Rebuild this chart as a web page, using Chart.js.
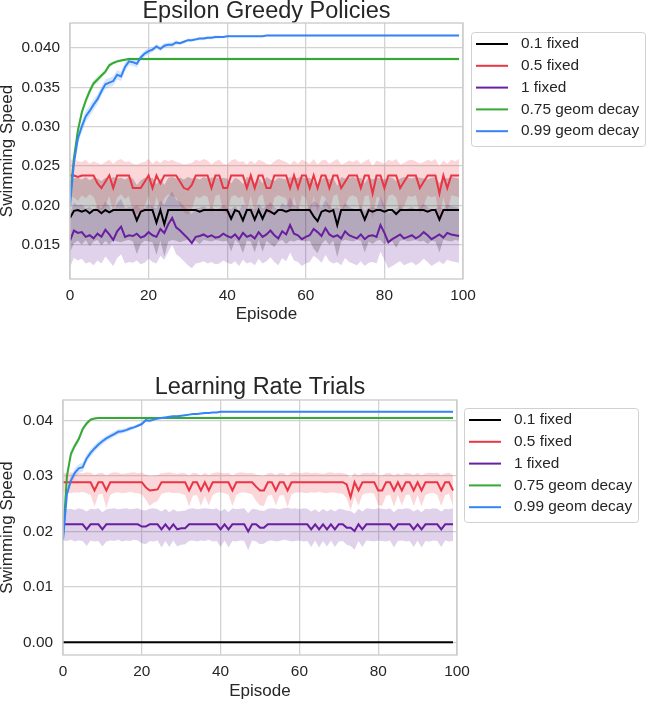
<!DOCTYPE html>
<html><head><meta charset="utf-8">
<script src="https://cdn.jsdelivr.net/npm/chart.js@4.4.0/dist/chart.umd.min.js"></script>
<style>
html,body{margin:0;padding:0;background:#fff;}
#wrap{position:relative;width:646px;height:701px;overflow:hidden;}
canvas{position:absolute;left:0;}
</style></head><body>
<div id="wrap">
<canvas id="c1" width="646" height="330" style="top:0"></canvas>
<canvas id="c2" width="646" height="371" style="top:330px"></canvas>
</div>
<script>
// ---------- shared ----------
const episodes = Array.from({length: 100}, (_, i) => i);
const seriesNames = ['0.1 fixed', '0.5 fixed', '1 fixed', '0.75 geom decay', '0.99 geom decay'];
const xTicks = [0, 20, 40, 60, 80, 100];
const xTickLabels = ['0', '20', '40', '60', '80', '100'];

// ---------- Chart 1: Epsilon Greedy Policies ----------
const epsTitle = 'Epsilon Greedy Policies';
const epsYTicks = [0.015, 0.020, 0.025, 0.030, 0.035, 0.040];
const epsYTickLabels = ['0.015', '0.020', '0.025', '0.030', '0.035', '0.040'];

const epsBlack = [
.0184,.0193,.0194,.0192,.0194,.0190,.0194,.0194,.0190,.0194,
.0191,.0194,.0194,.0194,.0194,.0194,.0194,.0181,.0192,.0194,
.0194,.0194,.0178,.0194,.0176,.0194,.0194,.0194,.0194,.0194,
.0194,.0194,.0194,.0192,.0194,.0194,.0194,.0194,.0194,.0194,
.0194,.0183,.0194,.0192,.0181,.0194,.0194,.0182,.0194,.0183,
.0194,.0192,.0189,.0194,.0194,.0192,.0194,.0194,.0194,.0194,
.0194,.0194,.0186,.0180,.0192,.0194,.0192,.0194,.0175,.0194,
.0194,.0194,.0194,.0194,.0194,.0182,.0194,.0192,.0194,.0194,
.0192,.0194,.0194,.0189,.0194,.0194,.0194,.0194,.0194,.0194,
.0194,.0192,.0194,.0194,.0182,.0194,.0194,.0194,.0194,.0194];
const epsBlackHi = [
.0232,.0234,.0235,.0233,.0236,.0232,.0235,.0234,.0231,.0235,.0233,.0236,.0234,.0235,.0233,.0236,.0234,.0226,.0232,.0235,
.0234,.0235,.0227,.0234,.0226,.0235,.0236,.0234,.0235,.0233,.0236,.0234,.0235,.0233,.0236,.0234,.0235,.0236,.0234,.0235,
.0234,.0228,.0235,.0233,.0227,.0236,.0234,.0228,.0235,.0228,.0236,.0233,.0231,.0235,.0234,.0233,.0236,.0234,.0235,.0236,
.0234,.0235,.0230,.0226,.0233,.0236,.0233,.0235,.0225,.0236,.0234,.0235,.0236,.0234,.0235,.0228,.0236,.0233,.0235,.0234,
.0233,.0236,.0235,.0231,.0234,.0236,.0235,.0234,.0236,.0235,.0234,.0233,.0235,.0236,.0228,.0235,.0234,.0236,.0235,.0234];
const epsBlackLo = [
.0140,.0152,.0155,.0150,.0156,.0148,.0154,.0156,.0149,.0155,.0150,.0156,.0154,.0153,.0155,.0156,.0154,.0138,.0151,.0155,
.0154,.0153,.0137,.0155,.0135,.0154,.0156,.0155,.0153,.0155,.0156,.0154,.0155,.0151,.0156,.0155,.0154,.0156,.0155,.0154,
.0155,.0141,.0156,.0152,.0139,.0155,.0154,.0140,.0156,.0141,.0155,.0151,.0147,.0154,.0156,.0151,.0155,.0154,.0156,.0155,
.0154,.0155,.0145,.0139,.0151,.0156,.0150,.0155,.0134,.0154,.0156,.0155,.0154,.0156,.0155,.0140,.0154,.0151,.0155,.0156,
.0150,.0155,.0154,.0146,.0155,.0156,.0154,.0155,.0156,.0154,.0155,.0151,.0155,.0154,.0140,.0156,.0155,.0154,.0156,.0155];

const epsRed = [
.0238,.0238,.0236,.0238,.0238,.0238,.0238,.0228,.0222,.0230,
.0238,.0222,.0238,.0238,.0238,.0238,.0222,.0222,.0222,.0230,
.0238,.0222,.0238,.0228,.0238,.0238,.0238,.0238,.0230,.0222,
.0220,.0226,.0238,.0238,.0238,.0238,.0222,.0238,.0238,.0222,
.0222,.0238,.0238,.0238,.0238,.0222,.0238,.0222,.0238,.0238,
.0222,.0222,.0238,.0238,.0238,.0238,.0222,.0238,.0222,.0238,
.0238,.0222,.0238,.0222,.0238,.0238,.0222,.0238,.0238,.0222,
.0230,.0238,.0238,.0238,.0222,.0238,.0238,.0215,.0238,.0238,
.0222,.0238,.0238,.0238,.0222,.0230,.0238,.0238,.0238,.0222,
.0230,.0238,.0238,.0238,.0215,.0238,.0222,.0238,.0238,.0238];
const epsRedHi = [
.0258,.0259,.0256,.0255,.0258,.0253,.0256,.0254,.0252,.0255,.0258,.0253,.0257,.0259,.0255,.0256,.0253,.0252,.0254,.0255,
.0259,.0253,.0257,.0254,.0258,.0256,.0258,.0255,.0254,.0252,.0253,.0254,.0258,.0256,.0259,.0257,.0252,.0256,.0258,.0253,
.0252,.0257,.0259,.0255,.0256,.0252,.0257,.0253,.0258,.0256,.0253,.0252,.0256,.0259,.0257,.0255,.0252,.0257,.0253,.0258,
.0256,.0253,.0259,.0252,.0257,.0258,.0253,.0256,.0259,.0252,.0254,.0257,.0255,.0258,.0253,.0256,.0259,.0250,.0257,.0255,
.0253,.0258,.0256,.0259,.0252,.0254,.0257,.0258,.0256,.0253,.0255,.0258,.0256,.0259,.0250,.0257,.0253,.0258,.0256,.0259];
const epsRedLo = [
.0212,.0210,.0206,.0213,.0209,.0214,.0211,.0198,.0190,.0200,.0212,.0191,.0210,.0214,.0208,.0212,.0192,.0189,.0191,.0199,
.0213,.0190,.0211,.0197,.0209,.0214,.0212,.0210,.0200,.0191,.0188,.0195,.0212,.0209,.0213,.0211,.0190,.0212,.0214,.0192,
.0189,.0211,.0213,.0209,.0212,.0191,.0213,.0190,.0211,.0214,.0192,.0188,.0210,.0213,.0211,.0209,.0190,.0212,.0191,.0213,
.0210,.0189,.0212,.0191,.0213,.0210,.0190,.0212,.0214,.0191,.0199,.0211,.0213,.0210,.0190,.0212,.0213,.0182,.0211,.0209,
.0191,.0212,.0214,.0210,.0190,.0199,.0212,.0211,.0213,.0189,.0200,.0213,.0210,.0212,.0183,.0211,.0190,.0213,.0212,.0210];

const epsPurple = [
.0155,.0168,.0165,.0166,.0160,.0162,.0158,.0164,.0160,.0169,
.0163,.0156,.0167,.0173,.0160,.0162,.0161,.0164,.0159,.0161,
.0166,.0162,.0160,.0170,.0165,.0176,.0184,.0172,.0168,.0163,
.0158,.0152,.0160,.0161,.0163,.0160,.0162,.0159,.0160,.0164,
.0161,.0159,.0163,.0157,.0165,.0160,.0162,.0158,.0166,.0160,
.0163,.0168,.0162,.0158,.0167,.0163,.0175,.0164,.0162,.0157,
.0160,.0162,.0170,.0166,.0161,.0171,.0163,.0160,.0162,.0158,
.0167,.0162,.0160,.0158,.0163,.0157,.0161,.0162,.0160,.0175,
.0165,.0153,.0157,.0160,.0163,.0158,.0160,.0162,.0158,.0161,
.0166,.0162,.0157,.0160,.0163,.0159,.0165,.0163,.0162,.0161];
const epsPurpleHi = [
.0190,.0203,.0200,.0201,.0196,.0198,.0194,.0200,.0196,.0205,.0199,.0192,.0203,.0208,.0196,.0198,.0197,.0200,.0195,.0197,
.0202,.0198,.0196,.0206,.0201,.0211,.0218,.0207,.0204,.0199,.0194,.0189,.0196,.0197,.0199,.0196,.0198,.0195,.0196,.0200,
.0197,.0195,.0199,.0193,.0201,.0196,.0198,.0194,.0202,.0196,.0199,.0204,.0198,.0194,.0203,.0199,.0210,.0200,.0198,.0193,
.0196,.0198,.0206,.0202,.0197,.0207,.0199,.0196,.0198,.0194,.0203,.0198,.0196,.0194,.0199,.0193,.0197,.0198,.0196,.0211,
.0201,.0190,.0193,.0196,.0199,.0194,.0196,.0198,.0194,.0197,.0202,.0198,.0193,.0196,.0199,.0195,.0201,.0199,.0198,.0197];
const epsPurpleLo = [
.0122,.0133,.0130,.0132,.0126,.0128,.0124,.0130,.0126,.0135,.0129,.0123,.0133,.0138,.0126,.0128,.0127,.0130,.0125,.0127,
.0132,.0128,.0126,.0136,.0131,.0141,.0150,.0138,.0134,.0129,.0124,.0120,.0126,.0127,.0129,.0126,.0128,.0125,.0126,.0130,
.0127,.0125,.0129,.0123,.0131,.0126,.0128,.0124,.0132,.0126,.0129,.0134,.0128,.0124,.0133,.0129,.0140,.0130,.0128,.0123,
.0126,.0128,.0136,.0132,.0127,.0137,.0129,.0126,.0128,.0124,.0133,.0128,.0126,.0124,.0129,.0123,.0127,.0128,.0126,.0141,
.0131,.0120,.0123,.0126,.0129,.0124,.0126,.0128,.0124,.0127,.0132,.0128,.0123,.0126,.0129,.0125,.0131,.0129,.0128,.0127];

const epsGreen = [
.0210,.0260,.0295,.0318,.0333,.0345,.0355,.0360,.0365,.0370,
.0378,.0381,.0383,.0384,.0385,.0386,.0386,.0386,.0386,.0386,
.0386,.0386,.0386,.0386,.0386,.0386,.0386,.0386,.0386,.0386,
.0386,.0386,.0386,.0386,.0386,.0386,.0386,.0386,.0386,.0386,
.0386,.0386,.0386,.0386,.0386,.0386,.0386,.0386,.0386,.0386,
.0386,.0386,.0386,.0386,.0386,.0386,.0386,.0386,.0386,.0386,
.0386,.0386,.0386,.0386,.0386,.0386,.0386,.0386,.0386,.0386,
.0386,.0386,.0386,.0386,.0386,.0386,.0386,.0386,.0386,.0386,
.0386,.0386,.0386,.0386,.0386,.0386,.0386,.0386,.0386,.0386,
.0386,.0386,.0386,.0386,.0386,.0386,.0386,.0386,.0386,.0386];
const epsGreenLo = [
.0203,.0254,.0289,.0313,.0328,.0340,.0351,.0356,.0362,.0367,
.0375,.0379,.0381,.0382,.0384,.0384,.0384,.0384,.0384,.0384,
.0384,.0384,.0384,.0384,.0384,.0384,.0384,.0384,.0384,.0384,
.0384,.0384,.0384,.0384,.0384,.0384,.0384,.0384,.0384,.0384,
.0384,.0384,.0384,.0384,.0384,.0384,.0384,.0384,.0384,.0384,
.0384,.0384,.0384,.0384,.0384,.0384,.0384,.0384,.0384,.0384,
.0384,.0384,.0384,.0384,.0384,.0384,.0384,.0384,.0384,.0384,
.0384,.0384,.0384,.0384,.0384,.0384,.0384,.0384,.0384,.0384,
.0384,.0384,.0384,.0384,.0384,.0384,.0384,.0384,.0384,.0384,
.0384,.0384,.0384,.0384,.0384,.0384,.0384,.0384,.0384,.0384];
const epsGreenHi = [
.0217,.0266,.0301,.0323,.0338,.0350,.0359,.0364,.0368,.0373,
.0381,.0383,.0385,.0386,.0387,.0388,.0388,.0388,.0388,.0388,
.0388,.0388,.0388,.0388,.0388,.0388,.0388,.0388,.0388,.0388,
.0388,.0388,.0388,.0388,.0388,.0388,.0388,.0388,.0388,.0388,
.0388,.0388,.0388,.0388,.0388,.0388,.0388,.0388,.0388,.0388,
.0388,.0388,.0388,.0388,.0388,.0388,.0388,.0388,.0388,.0388,
.0388,.0388,.0388,.0388,.0388,.0388,.0388,.0388,.0388,.0388,
.0388,.0388,.0388,.0388,.0388,.0388,.0388,.0388,.0388,.0388,
.0388,.0388,.0388,.0388,.0388,.0388,.0388,.0388,.0388,.0388,
.0388,.0388,.0388,.0388,.0388,.0388,.0388,.0388,.0388,.0388];

const epsBlue = [
.0200,.0254,.0285,.0300,.0313,.0320,.0328,.0335,.0345,.0354,
.0356,.0358,.0366,.0364,.0376,.0383,.0382,.0380,.0388,.0393,
.0396,.0398,.0402,.0399,.0403,.0404,.0404,.0407,.0406,.0408,
.0410,.0410,.0411,.0412,.0412,.0413,.0413,.0414,.0414,.0414,
.0415,.0415,.0415,.0415,.0415,.0415,.0415,.0415,.0415,.0415,
.0416,.0416,.0416,.0416,.0416,.0416,.0416,.0416,.0416,.0416,
.0416,.0416,.0416,.0416,.0416,.0416,.0416,.0416,.0416,.0416,
.0416,.0416,.0416,.0416,.0416,.0416,.0416,.0416,.0416,.0416,
.0416,.0416,.0416,.0416,.0416,.0416,.0416,.0416,.0416,.0416,
.0416,.0416,.0416,.0416,.0416,.0416,.0416,.0416,.0416,.0416];
const epsBlueLo = [
.0193,.0247,.0278,.0293,.0306,.0313,.0321,.0329,.0339,.0348,
.0350,.0352,.0360,.0358,.0370,.0378,.0377,.0375,.0384,.0389,
.0392,.0395,.0399,.0396,.0400,.0401,.0401,.0404,.0404,.0406,
.0408,.0408,.0409,.0410,.0410,.0411,.0411,.0412,.0412,.0413,
.0414,.0414,.0414,.0414,.0414,.0414,.0414,.0414,.0414,.0414,
.0415,.0415,.0415,.0415,.0415,.0415,.0415,.0415,.0415,.0415,
.0415,.0415,.0415,.0415,.0415,.0415,.0415,.0415,.0415,.0415,
.0415,.0415,.0415,.0415,.0415,.0415,.0415,.0415,.0415,.0415,
.0415,.0415,.0415,.0415,.0415,.0415,.0415,.0415,.0415,.0415,
.0415,.0415,.0415,.0415,.0415,.0415,.0415,.0415,.0415,.0415];
const epsBlueHi = [
.0207,.0261,.0292,.0307,.0320,.0327,.0335,.0341,.0351,.0360,
.0362,.0364,.0372,.0370,.0382,.0388,.0387,.0385,.0392,.0397,
.0400,.0401,.0405,.0402,.0406,.0407,.0407,.0410,.0408,.0410,
.0412,.0412,.0413,.0414,.0414,.0415,.0415,.0416,.0416,.0415,
.0416,.0416,.0416,.0416,.0416,.0416,.0416,.0416,.0416,.0416,
.0417,.0417,.0417,.0417,.0417,.0417,.0417,.0417,.0417,.0417,
.0417,.0417,.0417,.0417,.0417,.0417,.0417,.0417,.0417,.0417,
.0417,.0417,.0417,.0417,.0417,.0417,.0417,.0417,.0417,.0417,
.0417,.0417,.0417,.0417,.0417,.0417,.0417,.0417,.0417,.0417,
.0417,.0417,.0417,.0417,.0417,.0417,.0417,.0417,.0417,.0417];

// ---------- Chart 2: Learning Rate Trials ----------
const lrTitle = 'Learning Rate Trials';
const lrYTicks = [0.00, 0.01, 0.02, 0.03, 0.04];
const lrYTickLabels = ['0.00', '0.01', '0.02', '0.03', '0.04'];

const lrBlack = [
0,0,0,0,0,0,0,0,0,0, 0,0,0,0,0,0,0,0,0,0, 0,0,0,0,0,0,0,0,0,0, 0,0,0,0,0,0,0,0,0,0, 0,0,0,0,0,0,0,0,0,0,
0,0,0,0,0,0,0,0,0,0, 0,0,0,0,0,0,0,0,0,0, 0,0,0,0,0,0,0,0,0,0, 0,0,0,0,0,0,0,0,0,0, 0,0,0,0,0,0,0,0,0,0];

const lrRed = [
.0289,.0289,.0289,.0289,.0289,.0289,.0289,.0289,.0274,.0289,
.0289,.0274,.0289,.0289,.0289,.0289,.0289,.0289,.0289,.0289,
.0289,.0280,.0274,.0275,.0276,.0289,.0289,.0289,.0289,.0289,
.0289,.0289,.0274,.0289,.0289,.0274,.0289,.0274,.0289,.0289,
.0289,.0289,.0289,.0274,.0289,.0289,.0289,.0289,.0289,.0281,
.0274,.0274,.0289,.0289,.0274,.0289,.0289,.0274,.0289,.0289,
.0289,.0289,.0289,.0289,.0289,.0289,.0289,.0289,.0289,.0289,
.0289,.0289,.0285,.0262,.0289,.0274,.0289,.0289,.0289,.0289,
.0274,.0274,.0289,.0289,.0274,.0289,.0274,.0289,.0289,.0274,
.0289,.0274,.0289,.0289,.0289,.0289,.0274,.0289,.0289,.0274];
const lrRedHi = [
.0306,.0305,.0307,.0304,.0306,.0305,.0307,.0306,.0302,.0305,
.0306,.0301,.0305,.0307,.0306,.0304,.0305,.0306,.0307,.0305,
.0306,.0303,.0300,.0301,.0302,.0305,.0306,.0307,.0305,.0304,
.0306,.0305,.0301,.0306,.0305,.0301,.0306,.0302,.0305,.0307,
.0306,.0305,.0306,.0301,.0305,.0307,.0306,.0305,.0306,.0303,
.0301,.0300,.0305,.0306,.0302,.0306,.0305,.0301,.0306,.0307,
.0305,.0306,.0307,.0305,.0306,.0305,.0304,.0306,.0307,.0305,
.0306,.0305,.0304,.0297,.0306,.0301,.0305,.0306,.0305,.0307,
.0302,.0301,.0305,.0306,.0301,.0305,.0302,.0306,.0305,.0302,
.0306,.0301,.0305,.0306,.0305,.0306,.0302,.0305,.0306,.0302];
const lrRedLo = [
.0271,.0270,.0269,.0271,.0270,.0272,.0269,.0266,.0245,.0267,
.0268,.0242,.0266,.0270,.0271,.0269,.0270,.0272,.0270,.0269,
.0267,.0258,.0246,.0252,.0255,.0268,.0270,.0271,.0269,.0270,
.0268,.0266,.0245,.0265,.0266,.0246,.0264,.0247,.0266,.0270,
.0271,.0269,.0267,.0246,.0266,.0270,.0271,.0269,.0267,.0255,
.0247,.0246,.0265,.0266,.0247,.0265,.0266,.0244,.0267,.0270,
.0271,.0270,.0269,.0271,.0270,.0272,.0270,.0269,.0271,.0270,
.0269,.0268,.0260,.0238,.0264,.0246,.0266,.0269,.0270,.0268,
.0248,.0246,.0265,.0266,.0245,.0266,.0247,.0266,.0267,.0246,
.0266,.0245,.0266,.0269,.0270,.0266,.0246,.0266,.0268,.0245];

const lrPurple = [
.0213,.0213,.0213,.0213,.0213,.0213,.0204,.0213,.0213,.0213,
.0204,.0213,.0213,.0213,.0213,.0213,.0213,.0213,.0213,.0213,
.0209,.0209,.0213,.0213,.0213,.0204,.0213,.0204,.0213,.0204,
.0206,.0206,.0213,.0213,.0213,.0213,.0213,.0213,.0213,.0213,
.0204,.0213,.0204,.0213,.0213,.0213,.0213,.0200,.0213,.0213,
.0207,.0207,.0213,.0213,.0213,.0213,.0213,.0213,.0213,.0213,
.0213,.0213,.0213,.0204,.0213,.0204,.0213,.0204,.0213,.0204,
.0213,.0213,.0207,.0207,.0201,.0213,.0204,.0213,.0213,.0213,
.0213,.0213,.0213,.0213,.0204,.0213,.0213,.0213,.0213,.0204,
.0213,.0204,.0213,.0213,.0213,.0213,.0204,.0213,.0213,.0213];
const lrPurpleHi = [
.0238,.0240,.0241,.0239,.0242,.0240,.0236,.0241,.0240,.0242,
.0235,.0240,.0241,.0242,.0240,.0241,.0242,.0240,.0241,.0242,
.0239,.0238,.0241,.0242,.0240,.0236,.0241,.0235,.0240,.0236,
.0237,.0238,.0241,.0242,.0240,.0241,.0242,.0241,.0240,.0242,
.0236,.0241,.0235,.0242,.0240,.0241,.0242,.0233,.0241,.0240,
.0238,.0237,.0241,.0242,.0241,.0240,.0242,.0243,.0241,.0242,
.0240,.0242,.0241,.0236,.0240,.0235,.0241,.0236,.0240,.0236,
.0241,.0240,.0238,.0237,.0232,.0241,.0236,.0242,.0241,.0240,
.0242,.0241,.0240,.0242,.0235,.0241,.0240,.0242,.0241,.0236,
.0240,.0235,.0241,.0240,.0242,.0241,.0236,.0241,.0240,.0242];
const lrPurpleLo = [
.0184,.0183,.0185,.0182,.0184,.0183,.0174,.0184,.0182,.0183,
.0173,.0182,.0184,.0183,.0185,.0182,.0184,.0183,.0185,.0184,
.0179,.0177,.0183,.0182,.0184,.0171,.0183,.0172,.0184,.0173,
.0176,.0177,.0183,.0184,.0182,.0184,.0183,.0185,.0182,.0183,
.0172,.0184,.0171,.0183,.0182,.0184,.0183,.0166,.0184,.0182,
.0177,.0178,.0183,.0184,.0182,.0183,.0185,.0184,.0182,.0183,
.0184,.0182,.0183,.0172,.0184,.0171,.0183,.0173,.0184,.0172,
.0182,.0183,.0176,.0174,.0167,.0183,.0172,.0184,.0183,.0182,
.0184,.0183,.0182,.0184,.0171,.0183,.0184,.0182,.0183,.0172,
.0184,.0171,.0183,.0182,.0184,.0183,.0172,.0184,.0182,.0183];

const lrGreen = [
.0190,.0300,.0340,.0355,.0367,.0385,.0395,.0402,.0404,.0405,
.0405,.0405,.0405,.0405,.0405,.0405,.0405,.0405,.0405,.0405,
.0405,.0405,.0405,.0405,.0405,.0405,.0405,.0405,.0405,.0405,
.0405,.0405,.0405,.0405,.0405,.0405,.0405,.0405,.0405,.0405,
.0405,.0405,.0405,.0405,.0405,.0405,.0405,.0405,.0405,.0405,
.0405,.0405,.0405,.0405,.0405,.0405,.0405,.0405,.0405,.0405,
.0405,.0405,.0405,.0405,.0405,.0405,.0405,.0405,.0405,.0405,
.0405,.0405,.0405,.0405,.0405,.0405,.0405,.0405,.0405,.0405,
.0405,.0405,.0405,.0405,.0405,.0405,.0405,.0405,.0405,.0405,
.0405,.0405,.0405,.0405,.0405,.0405,.0405,.0405,.0405,.0405];
const lrGreenLo = [
.0185,.0292,.0333,.0349,.0361,.0380,.0391,.0399,.0402,.0403,
.0403,.0403,.0403,.0403,.0403,.0403,.0403,.0403,.0403,.0403,
.0403,.0403,.0403,.0403,.0403,.0403,.0403,.0403,.0403,.0403,
.0403,.0403,.0403,.0403,.0403,.0403,.0403,.0403,.0403,.0403,
.0403,.0403,.0403,.0403,.0403,.0403,.0403,.0403,.0403,.0403,
.0403,.0403,.0403,.0403,.0403,.0403,.0403,.0403,.0403,.0403,
.0403,.0403,.0403,.0403,.0403,.0403,.0403,.0403,.0403,.0403,
.0403,.0403,.0403,.0403,.0403,.0403,.0403,.0403,.0403,.0403,
.0403,.0403,.0403,.0403,.0403,.0403,.0403,.0403,.0403,.0403,
.0403,.0403,.0403,.0403,.0403,.0403,.0403,.0403,.0403,.0403];
const lrGreenHi = [
.0195,.0308,.0347,.0361,.0373,.0390,.0399,.0405,.0406,.0407,
.0407,.0407,.0407,.0407,.0407,.0407,.0407,.0407,.0407,.0407,
.0407,.0407,.0407,.0407,.0407,.0407,.0407,.0407,.0407,.0407,
.0407,.0407,.0407,.0407,.0407,.0407,.0407,.0407,.0407,.0407,
.0407,.0407,.0407,.0407,.0407,.0407,.0407,.0407,.0407,.0407,
.0407,.0407,.0407,.0407,.0407,.0407,.0407,.0407,.0407,.0407,
.0407,.0407,.0407,.0407,.0407,.0407,.0407,.0407,.0407,.0407,
.0407,.0407,.0407,.0407,.0407,.0407,.0407,.0407,.0407,.0407,
.0407,.0407,.0407,.0407,.0407,.0407,.0407,.0407,.0407,.0407,
.0407,.0407,.0407,.0407,.0407,.0407,.0407,.0407,.0407,.0407];

const lrBlue = [
.0185,.0268,.0292,.0306,.0314,.0316,.0332,.0342,.0350,.0357,
.0363,.0368,.0372,.0376,.0380,.0381,.0383,.0386,.0388,.0391,
.0394,.0401,.0400,.0402,.0404,.0405,.0406,.0407,.0408,.0408,
.0409,.0410,.0411,.0412,.0412,.0413,.0414,.0414,.0415,.0415,
.0416,.0416,.0416,.0416,.0416,.0416,.0416,.0416,.0416,.0416,
.0416,.0416,.0416,.0416,.0416,.0416,.0416,.0416,.0416,.0416,
.0416,.0416,.0416,.0416,.0416,.0416,.0416,.0416,.0416,.0416,
.0416,.0416,.0416,.0416,.0416,.0416,.0416,.0416,.0416,.0416,
.0416,.0416,.0416,.0416,.0416,.0416,.0416,.0416,.0416,.0416,
.0416,.0416,.0416,.0416,.0416,.0416,.0416,.0416,.0416,.0416];
const lrBlueLo = [
.0180,.0260,.0284,.0298,.0306,.0308,.0325,.0335,.0344,.0351,
.0357,.0363,.0367,.0371,.0375,.0377,.0379,.0382,.0385,.0388,
.0391,.0398,.0397,.0400,.0402,.0403,.0404,.0405,.0406,.0407,
.0408,.0409,.0410,.0411,.0411,.0412,.0413,.0413,.0414,.0414,
.0415,.0415,.0415,.0415,.0415,.0415,.0415,.0415,.0415,.0415,
.0415,.0415,.0415,.0415,.0415,.0415,.0415,.0415,.0415,.0415,
.0415,.0415,.0415,.0415,.0415,.0415,.0415,.0415,.0415,.0415,
.0415,.0415,.0415,.0415,.0415,.0415,.0415,.0415,.0415,.0415,
.0415,.0415,.0415,.0415,.0415,.0415,.0415,.0415,.0415,.0415,
.0415,.0415,.0415,.0415,.0415,.0415,.0415,.0415,.0415,.0415];
const lrBlueHi = [
.0190,.0276,.0300,.0314,.0322,.0324,.0339,.0349,.0356,.0363,
.0369,.0373,.0377,.0381,.0385,.0385,.0387,.0390,.0391,.0394,
.0397,.0404,.0403,.0404,.0406,.0407,.0408,.0409,.0410,.0409,
.0410,.0411,.0412,.0413,.0413,.0414,.0415,.0415,.0416,.0416,
.0417,.0417,.0417,.0417,.0417,.0417,.0417,.0417,.0417,.0417,
.0417,.0417,.0417,.0417,.0417,.0417,.0417,.0417,.0417,.0417,
.0417,.0417,.0417,.0417,.0417,.0417,.0417,.0417,.0417,.0417,
.0417,.0417,.0417,.0417,.0417,.0417,.0417,.0417,.0417,.0417,
.0417,.0417,.0417,.0417,.0417,.0417,.0417,.0417,.0417,.0417,
.0417,.0417,.0417,.0417,.0417,.0417,.0417,.0417,.0417,.0417];

// ---------- styling ----------
const FONT = '"Liberation Sans", Arial, Helvetica, sans-serif';
const TXT = '#262626';
const GRID = '#d2d2d2';
const FRAME = '#cccccc';
const COLORS = ['#000000', '#ea3545', '#6a1ea0', '#35a836', '#3484f7'];

function rgba(hex, a) {
  const n = parseInt(hex.slice(1), 16);
  return `rgba(${(n >> 16) & 255},${(n >> 8) & 255},${n & 255},${a})`;
}

function buildDatasets(series) {
  const sets = [];
  series.forEach((s) => {
    if (s.lo && s.hi) {
      const loIdx = sets.length;
      sets.push({ data: s.lo, isBand: true, borderWidth: 0, pointRadius: 0, fill: false, order: 20 });
      sets.push({ data: s.hi, isBand: true, borderWidth: 0, pointRadius: 0, fill: loIdx,
                  backgroundColor: rgba(s.color, 0.2), order: 20 });
    }
  });
  series.forEach((s, k) => {
    sets.push({ label: s.label, data: s.mean, borderColor: s.color, backgroundColor: s.color,
                borderWidth: 2, pointRadius: 0, fill: false, order: 10 - k });
  });
  return sets;
}

const framePlugin = {
  id: 'frame',
  afterDatasetsDraw(chart) {
    const a = chart.chartArea, ctx = chart.ctx;
    ctx.save();
    ctx.strokeStyle = FRAME; ctx.lineWidth = 1.4;
    ctx.strokeRect(a.left, a.top, a.right - a.left, a.bottom - a.top);
    ctx.restore();
  }
};

const boxLegend = {
  id: 'boxLegend',
  afterDraw(chart, args, o) {
    const ctx = chart.ctx;
    const items = chart.data.datasets.filter(d => !d.isBand);
    ctx.save();
    ctx.beginPath();
    ctx.roundRect(o.x + 0.5, o.y + 0.5, o.w, o.h, 3);
    ctx.fillStyle = 'rgba(255,255,255,0.85)'; ctx.fill();
    ctx.strokeStyle = '#d0d0d0'; ctx.lineWidth = 1; ctx.stroke();
    ctx.font = '15.4px ' + FONT;
    ctx.textBaseline = 'middle';
    ctx.textAlign = 'left';
    items.forEach((d, i) => {
      const y = o.y + o.first + i * o.row;
      ctx.strokeStyle = d.borderColor; ctx.lineWidth = 2;
      ctx.beginPath(); ctx.moveTo(o.x + o.lx0, y); ctx.lineTo(o.x + o.lx1, y); ctx.stroke();
      ctx.fillStyle = TXT;
      ctx.fillText(d.label, o.x + o.tx, y);
    });
    ctx.restore();
  }
};

function makeChart(id, cfg) {
  const series = cfg.series.map((s, k) => ({ ...s, label: seriesNames[k], color: COLORS[k] }));
  return new Chart(document.getElementById(id), {
    type: 'line',
    data: { labels: episodes, datasets: buildDatasets(series) },
    plugins: [framePlugin, boxLegend],
    options: {
      responsive: false, animation: false, devicePixelRatio: 1,
      layout: { padding: { left: 0, top: cfg.padTop, right: cfg.padRight, bottom: 0 } },
      elements: { line: { tension: 0 } },
      plugins: {
        legend: { display: false },
        tooltip: { enabled: false },
        filler: { drawTime: 'beforeDatasetsDraw' },
        title: { display: true, text: cfg.title, color: TXT, fullSize: false,
                 font: { family: FONT, size: 23.5, weight: 'normal', lineHeight: 0.8 },
                 padding: { top: 0, bottom: cfg.titleGap } },
        boxLegend: cfg.legend
      },
      scales: {
        x: {
          type: 'linear', min: 0, max: 100,
          afterBuildTicks: s => { s.ticks = xTicks.map(v => ({ value: v })); },
          afterFit: s => { s.height = cfg.xAxisH; },
          grid: { color: GRID, lineWidth: 1.3, drawTicks: false },
          border: { display: false },
          ticks: { color: TXT, font: { family: FONT, size: 15.4 }, padding: 8, maxRotation: 0,
                   callback: (v, i) => xTickLabels[i] },
          title: { display: true, text: 'Episode', color: TXT,
                   font: { family: FONT, size: 17, lineHeight: 0.8 }, padding: { top: 0, bottom: cfg.xTitlePad } }
        },
        y: {
          type: 'linear', min: cfg.yMin, max: cfg.yMax,
          afterBuildTicks: s => { s.ticks = cfg.yTicks.map(v => ({ value: v })); },
          afterFit: s => { s.width = cfg.plotLeft; },
          grid: { color: GRID, lineWidth: 1.3, drawTicks: false },
          border: { display: false },
          ticks: { color: TXT, font: { family: FONT, size: 15.4 }, padding: 10,
                   callback: (v, i) => cfg.yTickLabels[i] },
          title: { display: true, text: 'Swimming Speed', color: TXT,
                   font: { family: FONT, size: 17, lineHeight: 0.8 }, padding: { top: 0.3, bottom: 0 } }
        }
      }
    }
  });
}

makeChart('c1', {
  title: epsTitle, padTop: 2, titleGap: 2.2, padRight: 183, plotLeft: 70, xAxisH: 51, xTitlePad: 8.6,
  yMin: 0.01064, yMax: 0.04318, yTicks: epsYTicks, yTickLabels: epsYTickLabels,
  legend: { x: 471, y: 32, w: 174, h: 114, first: 12, row: 21.8, lx0: 5, lx1: 37, tx: 50 },
  series: [
    { mean: epsBlack, lo: epsBlackLo, hi: epsBlackHi },
    { mean: epsRed, lo: epsRedLo, hi: epsRedHi },
    { mean: epsPurple, lo: epsPurpleLo, hi: epsPurpleHi },
    { mean: epsGreen, lo: epsGreenLo, hi: epsGreenHi },
    { mean: epsBlue, lo: epsBlueLo, hi: epsBlueHi }
  ]
});

makeChart('c2', {
  title: lrTitle, padTop: 48.6, titleGap: 2.6, padRight: 189, plotLeft: 63, xAxisH: 46, xTitlePad: 3,
  yMin: -0.00229, yMax: 0.04374, yTicks: lrYTicks, yTickLabels: lrYTickLabels,
  legend: { x: 464, y: 78, w: 174, h: 114, first: 12, row: 21.8, lx0: 5, lx1: 37, tx: 50 },
  series: [
    { mean: lrBlack },
    { mean: lrRed, lo: lrRedLo, hi: lrRedHi },
    { mean: lrPurple, lo: lrPurpleLo, hi: lrPurpleHi },
    { mean: lrGreen, lo: lrGreenLo, hi: lrGreenHi },
    { mean: lrBlue, lo: lrBlueLo, hi: lrBlueHi }
  ]
});
</script>
</body></html>
